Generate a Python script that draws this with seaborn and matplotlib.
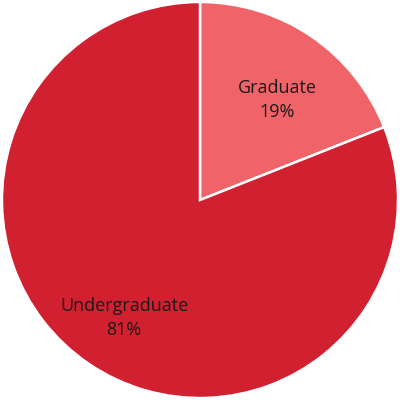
import matplotlib
matplotlib.use("Agg")
import matplotlib.pyplot as plt
import seaborn as sns
import numpy as np

sns.set_theme(style="white")
plt.rcParams['font.family'] = ['Open Sans', 'DejaVu Sans']

categories = ["Graduate", "Undergraduate"]
shares = [19, 81]
colors = ["#F06368", "#D12030"]
label_dist = [0.64, 0.71]
label_turn = [-3.5, 1.5]

fig = plt.figure(figsize=(4, 4), dpi=100)
ax = fig.add_axes([0, 0, 1, 1])
wedges, texts = ax.pie(
    shares, colors=colors, startangle=90, counterclock=False,
    radius=1.0, wedgeprops=dict(edgecolor="white", linewidth=1.8),
)
for w, cat, val, d, t in zip(wedges, categories, shares, label_dist, label_turn):
    mid = np.deg2rad((w.theta1 + w.theta2) / 2 + t)
    ax.text(d * np.cos(mid), d * np.sin(mid), f"{cat}\n{val}%",
            ha="center", va="center", fontsize=13, color="#1a1a1a",
            linespacing=1.45)
ax.set_xlim(-1.01, 1.01)
ax.set_ylim(-1.01, 1.01)
ax.set_aspect("equal")
ax.axis("off")
fig.savefig("out.png", dpi=100, facecolor="white")
